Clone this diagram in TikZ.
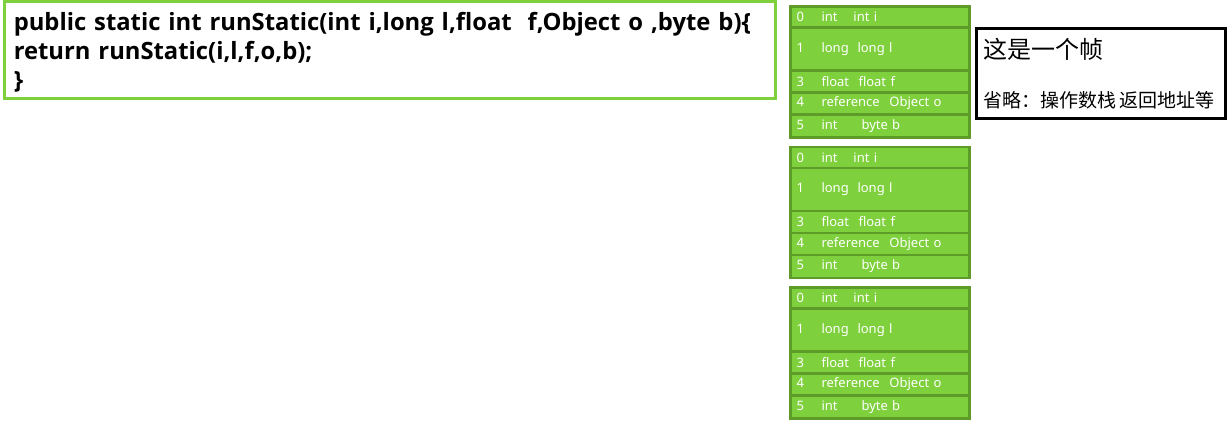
\documentclass[tikz,border=0pt]{standalone}
\usepackage{fontspec}
\setmainfont{Noto Sans}
\newfontfamily\cjkfont{Noto Sans CJK SC}
\newfontfamily\codefont{Open Sans}
\usepackage{tikz}
\usetikzlibrary{positioning}
\definecolor{slotfill}{RGB}{126,208,60}
\definecolor{slotline}{RGB}{94,156,42}
\tikzset{slot/.style={draw=slotline,fill=slotfill,line width=2.5pt,outer sep=0pt,
    minimum width=179pt,text width=167pt,inner xsep=6pt,inner ysep=0pt,align=left,
    text=white,font=\fontsize{13}{14}\selectfont}}
\tikzset{codebox/.style={draw=slotfill,line width=3pt,outer sep=0pt,anchor=north west,
    minimum width=770.5pt,minimum height=97pt,text width=752pt,inner xsep=9pt,align=left,
    font=\codefont\bfseries\fontsize{23.8}{29}\selectfont}}
\tikzset{notebox/.style={draw=black,line width=3pt,outer sep=0pt,anchor=north west,
    minimum width=247pt,minimum height=90pt,text width=235pt,inner xsep=7pt,align=left,
    font=\cjkfont}}
\newcommand\slotrow[4]{\makebox[25pt][l]{#1}\makebox[#3pt][l]{#2}#4}

\begin{document}
\begin{tikzpicture}[x=1pt,y=-1pt]
	\useasboundingbox (0,0) rectangle (1227,423);
	\node[codebox] (code) at (4.5,1.5) {\rule{0pt}{23pt}public static int runStatic(int i,long l,float\ \ f,Object o ,byte b)\{\\
		return runStatic(i,l,f,o,b);\\
		\}};
	%
	\foreach \fr/\dy in {1/0,2/140.5,3/281} {
		\node[slot,minimum height=21pt,anchor=north west] (f\fr-0) at (790.5,6.5+\dy) {\slotrow{0}{int}{32}{int i}};
		\node[slot,minimum height=43pt,below=0pt of f\fr-0] (f\fr-1) {\slotrow{1}{long}{36}{long l}};
		\node[slot,minimum height=22pt,below=0pt of f\fr-1] (f\fr-3) {\slotrow{3}{float}{37}{float f}};
		\node[slot,minimum height=22pt,below=0pt of f\fr-3] (f\fr-4) {\slotrow{4}{reference}{68}{Object o}};
		\node[slot,minimum height=23pt,below=0pt of f\fr-4] (f\fr-5) {\slotrow{5}{int}{40}{byte b}};
	}
	%
	\node[notebox] (note) at (976.5,28.5) {{\fontsize{24}{24}\selectfont 这是一个帧}\\[30pt]
		{\fontsize{19}{20}\selectfont 省略：操作数栈 返回地址等}};
\end{tikzpicture}
\end{document}
